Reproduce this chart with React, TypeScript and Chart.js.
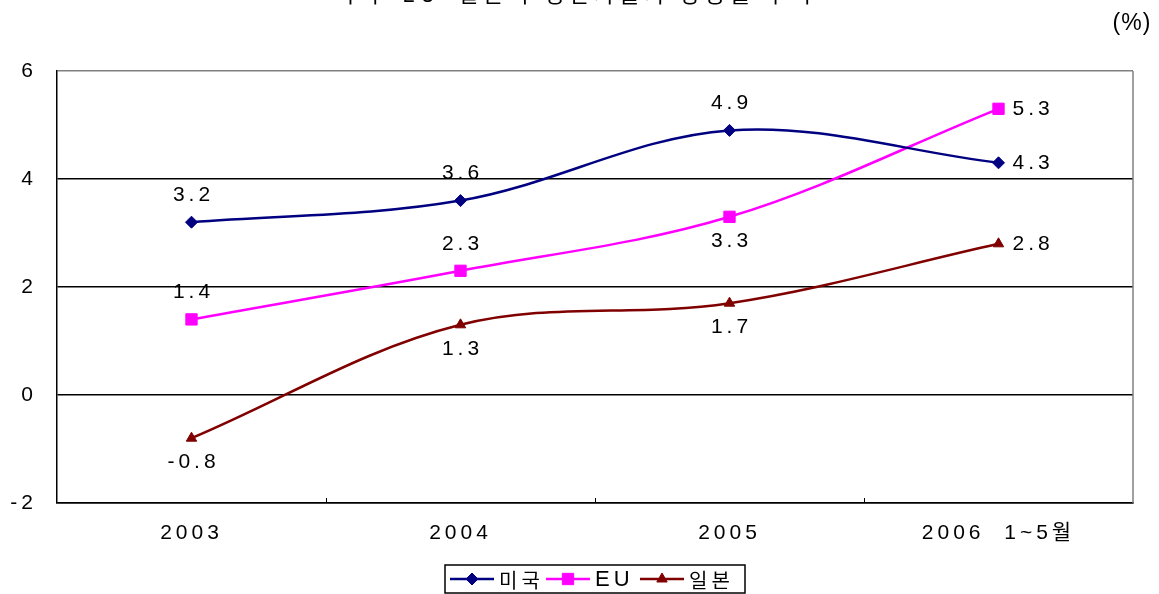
import { useEffect, useRef } from "react";
import { Chart, registerables } from "chart.js";
import { drawPoint } from "chart.js/helpers";

Chart.register(...registerables);

// Categories and yearly rates (%)
const categories = ["2003", "2004", "2005", "2006  1~5월"];
const seriesNames = ["미국", "EU", "일본"];
const usValues = [3.2, 3.6, 4.9, 4.3];
const euValues = [1.4, 2.3, 3.3, 5.3];
const jpValues = [-0.8, 1.3, 1.7, 2.8];
const yTickValues = [-2, 0, 2, 4, 6];

// Where each value label sits relative to its point
const usLabelPos = ["above", "above", "above", "right"];
const euLabelPos = ["above", "above", "below", "right"];
const jpLabelPos = ["below", "below", "below", "right"];

const titleText = "< 미국·EU·일본의 생산자물가 상승률 추이 >";
const unitText = "(%)";

const NUM_FONT = "'Liberation Sans', 'Noto Sans CJK KR', sans-serif";
const KR_FONT = "'Noto Sans CJK KR', 'Liberation Sans', sans-serif";

const COLORS = ["#000080", "#ff00ff", "#800000"];
const POINT_STYLES = ["rectRot", "rect", "triangle"];
const POINT_RADII = [6, 8, 6];

const setSpacing = (chart: any) => {
  chart.ctx.letterSpacing = "4px";
};

const decorPlugin = {
  id: "decor",
  beforeUpdate: setSpacing,
  beforeLayout: setSpacing,
  beforeDraw(chart: any) {
    setSpacing(chart);
    const { ctx, width, height } = chart;
    ctx.save();
    ctx.fillStyle = "#ffffff";
    ctx.fillRect(0, 0, width, height);
    ctx.restore();
  },
  afterDraw(chart: any) {
    const { ctx, chartArea } = chart;
    const xScale = chart.scales.x;
    const labelPositions = [usLabelPos, euLabelPos, jpLabelPos];

    ctx.save();
    // right frame edge
    ctx.strokeStyle = "#808080";
    ctx.lineWidth = 1.5;
    ctx.beginPath();
    ctx.moveTo(chartArea.right, chartArea.top);
    ctx.lineTo(chartArea.right, chartArea.bottom);
    ctx.stroke();

    // inner tick marks between categories
    ctx.strokeStyle = "#000000";
    ctx.lineWidth = 1;
    for (let i = 0; i < categories.length - 1; i++) {
      const x =
        Math.round((xScale.getPixelForValue(i) + xScale.getPixelForValue(i + 1)) / 2) + 0.5;
      ctx.beginPath();
      ctx.moveTo(x, chartArea.bottom);
      ctx.lineTo(x, chartArea.bottom - 5);
      ctx.stroke();
    }

    // value labels
    ctx.letterSpacing = "4px";
    ctx.fillStyle = "#000000";
    ctx.font = `21px ${NUM_FONT}`;
    chart.data.datasets.forEach((ds: any, di: number) => {
      const meta = chart.getDatasetMeta(di);
      meta.data.forEach((pt: any, i: number) => {
        const txt = Number(ds.data[i]).toFixed(1);
        const pos = labelPositions[di][i];
        ctx.textBaseline = "middle";
        if (pos === "right") {
          ctx.textAlign = "left";
          ctx.fillText(txt, pt.x + 14, pt.y);
        } else if (pos === "above") {
          ctx.textAlign = "center";
          ctx.fillText(txt, pt.x + 2, pt.y - 27);
        } else {
          ctx.textAlign = "center";
          ctx.fillText(txt, pt.x + 2, pt.y + 24);
        }
      });
    });

    // legend with frame
    const boxL = 445;
    const boxT = 565;
    const boxW = 300;
    const boxH = 28;
    ctx.strokeStyle = "#000000";
    ctx.lineWidth = 1.5;
    ctx.strokeRect(boxL, boxT, boxW, boxH);
    const starts = [5, 101, 195];
    const cy = boxT + 14;
    chart.data.datasets.forEach((ds: any, di: number) => {
      const x0 = boxL + starts[di];
      const len = 44;
      ctx.strokeStyle = ds.borderColor;
      ctx.lineWidth = 2.5;
      ctx.beginPath();
      ctx.moveTo(x0, cy);
      ctx.lineTo(x0 + len, cy);
      ctx.stroke();
      ctx.fillStyle = ds.borderColor;
      ctx.strokeStyle = ds.borderColor;
      ctx.lineWidth = 1;
      drawPoint(
        ctx,
        { pointStyle: ds.pointStyle, radius: ds.pointRadius, rotation: 0, borderWidth: 1 },
        x0 + len / 2,
        cy
      );
      ctx.fillStyle = "#000000";
      ctx.textAlign = "left";
      ctx.textBaseline = "middle";
      ctx.letterSpacing = "4px";
      ctx.font = di === 1 ? `22px ${NUM_FONT}` : `20px ${KR_FONT}`;
      ctx.fillText(ds.label, x0 + len + 5, cy + 1);
    });

    // unit and heading
    ctx.letterSpacing = "1px";
    ctx.font = `23px ${NUM_FONT}`;
    ctx.textAlign = "center";
    ctx.textBaseline = "middle";
    ctx.fillText(unitText, 1132, 24);

    ctx.letterSpacing = "5px";
    ctx.font = `22px ${KR_FONT}`;
    ctx.textBaseline = "alphabetic";
    ctx.fillText(titleText, 575, 2);
    ctx.restore();
  },
};

export default function App() {
  const canvasRef = useRef<HTMLCanvasElement | null>(null);

  useEffect(() => {
    const canvas = canvasRef.current;
    if (!canvas) return;
    const seriesValues = [usValues, euValues, jpValues];
    const chart = new Chart(canvas, {
      type: "line",
      data: {
        labels: categories,
        datasets: seriesNames.map((name, i) => ({
          label: name,
          data: seriesValues[i],
          borderColor: COLORS[i],
          backgroundColor: COLORS[i],
          borderWidth: 2.5,
          tension: 0.35,
          pointStyle: POINT_STYLES[i],
          pointRadius: POINT_RADII[i],
          pointBorderWidth: 1,
          pointBackgroundColor: COLORS[i],
          pointBorderColor: COLORS[i],
          fill: false,
        })),
      },
      options: {
        responsive: false,
        animation: false,
        devicePixelRatio: 1,
        layout: { padding: { top: 71, right: 26, bottom: 0, left: 0 } },
        plugins: {
          legend: { display: false },
          title: { display: false },
          tooltip: { enabled: false },
        },
        scales: {
          x: {
            type: "category",
            offset: true,
            grid: { display: false, drawTicks: false },
            border: { display: true, color: "#000000", width: 1.5 },
            ticks: {
              color: "#000000",
              font: { family: NUM_FONT, size: 21 },
              padding: 18,
              maxRotation: 0,
              autoSkip: false,
            },
            afterFit: (scale: any) => {
              scale.height = 91;
            },
          },
          y: {
            min: -2,
            max: 6,
            afterBuildTicks: (scale: any) => {
              scale.ticks = yTickValues.map((v) => ({ value: v }));
            },
            grid: {
              color: (c: any) => (c.tick && c.tick.value === 6 ? "#808080" : "#000000"),
              lineWidth: 1.5,
              drawTicks: false,
            },
            border: { display: true, color: "#000000", width: 1.5 },
            ticks: {
              color: "#000000",
              font: { family: NUM_FONT, size: 21 },
              padding: 20,
            },
            afterFit: (scale: any) => {
              scale.width = 57;
            },
          },
        },
      },
      plugins: [decorPlugin],
    });
    return () => chart.destroy();
  }, []);

  return (
    <div style={{ position: "absolute", left: 0, top: 0, width: 1159, height: 594 }}>
      <canvas ref={canvasRef} width={1159} height={594} style={{ display: "block" }} />
    </div>
  );
}
